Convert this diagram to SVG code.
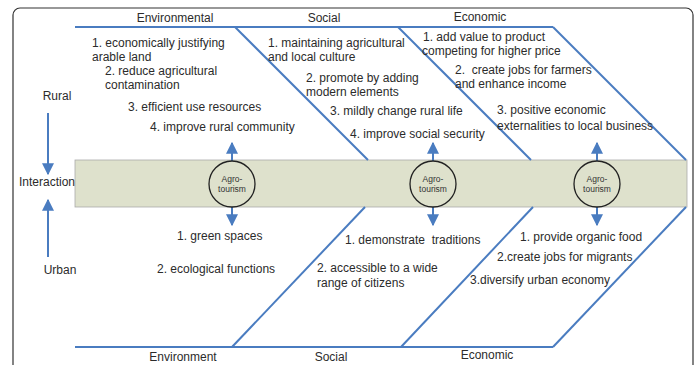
<svg xmlns="http://www.w3.org/2000/svg" width="697" height="365" viewBox="0 0 697 365">
<defs>
<style>
.t{font-family:"Liberation Sans",Arial,sans-serif;font-size:12px;fill:#2b2b2b;white-space:pre}
.s{font-family:"Liberation Sans",Arial,sans-serif;font-size:8.5px;fill:#333;text-anchor:middle}
.m{text-anchor:middle}
.ln{stroke:#4a7cc0;stroke-width:2;fill:none}
.ar{stroke:#4a7cc0;stroke-width:2;fill:none}
</style>
<marker id="ah" viewBox="0 0 10 10" refX="9" refY="5" markerWidth="6" markerHeight="6" orient="auto" markerUnits="strokeWidth">
<path d="M0,0 L10,5 L0,10 Z" fill="#4a7cc0"/>
</marker>
</defs>
<rect x="0" y="0" width="697" height="365" fill="#ffffff"/>
<rect x="13" y="8" width="680" height="370" rx="7" fill="none" stroke="#333" stroke-width="1.2"/>
<rect id="band" x="75" y="160" width="612" height="47" fill="#dee1cc" stroke="#aaa" stroke-width="0.8"/>
<g id="connectors">
<polyline class="ln" points="75,27 553,27"/>
<line class="ln" x1="235" y1="27" x2="368" y2="160"/>
<line class="ln" x1="398" y1="27" x2="531" y2="160"/>
<line class="ln" x1="553" y1="27" x2="686" y2="160"/>
<polyline class="ln" points="75,347 553,347"/>
<line class="ln" x1="232" y1="347" x2="365" y2="207"/>
<line class="ln" x1="401" y1="347" x2="533" y2="207"/>
<line class="ln" x1="553" y1="347" x2="686" y2="207"/>
<line class="ar" x1="48" y1="113" x2="48" y2="174" marker-end="url(#ah)"/>
<line class="ar" x1="48" y1="257" x2="48" y2="200" marker-end="url(#ah)"/>
<line class="ar" x1="232" y1="161" x2="232" y2="143" marker-end="url(#ah)"/>
<line class="ar" x1="232" y1="207" x2="232" y2="225" marker-end="url(#ah)"/>
<line class="ar" x1="433" y1="161" x2="433" y2="143" marker-end="url(#ah)"/>
<line class="ar" x1="433" y1="207" x2="433" y2="225" marker-end="url(#ah)"/>
<line class="ar" x1="597" y1="161" x2="597" y2="143" marker-end="url(#ah)"/>
<line class="ar" x1="597" y1="207" x2="597" y2="225" marker-end="url(#ah)"/>
</g>
<g id="agro1"><circle cx="232" cy="184" r="23" fill="#dee1cc" stroke="#222" stroke-width="1.3"/><text class="s" x="232" y="182">Agro-</text><text class="s" x="232" y="192">tourism</text></g>
<g id="agro2"><circle cx="433" cy="184" r="23" fill="#dee1cc" stroke="#222" stroke-width="1.3"/><text class="s" x="433" y="182">Agro-</text><text class="s" x="433" y="192">tourism</text></g>
<g id="agro3"><circle cx="597" cy="184" r="23" fill="#dee1cc" stroke="#222" stroke-width="1.3"/><text class="s" x="597" y="182">Agro-</text><text class="s" x="597" y="192">tourism</text></g>
<g id="labels-side">
<text class="t m" x="57" y="100">Rural</text>
<text class="t m" x="47" y="186">Interaction</text>
<text class="t m" x="60" y="274">Urban</text>
</g>
<g id="headers">
<text class="t m" x="175" y="22">Environmental</text>
<text class="t m" x="324" y="22">Social</text>
<text class="t m" x="480" y="21">Economic</text>
<text class="t m" x="183" y="361">Environment</text>
<text class="t m" x="331" y="361">Social</text>
<text class="t m" x="487" y="359">Economic</text>
</g>
<g id="env-rural">
<text class="t" x="92" y="47">1. economically justifying</text>
<text class="t" x="92" y="61">arable land</text>
<text class="t" x="105" y="75">2. reduce agricultural</text>
<text class="t" x="105" y="89">contamination</text>
<text class="t" x="128" y="111">3. efficient use resources</text>
<text class="t" x="150" y="131">4. improve rural community</text>
</g>
<g id="soc-rural">
<text class="t" x="268" y="47">1. maintaining agricultural</text>
<text class="t" x="268" y="61">and local culture</text>
<text class="t" x="306" y="82">2. promote by adding</text>
<text class="t" x="306" y="96">modern elements</text>
<text class="t" x="330" y="115">3. mildly change rural life</text>
<text class="t" x="350" y="138">4. improve social security</text>
</g>
<g id="eco-rural">
<text class="t" x="423" y="41">1. add value to product</text>
<text class="t" x="422" y="55">competing for higher price</text>
<text class="t" x="455" y="74" xml:space="preserve">2.  create jobs for farmers</text>
<text class="t" x="455" y="88">and enhance income</text>
<text class="t" x="497" y="114">3. positive economic</text>
<text class="t" x="497" y="130">externalities to local business</text>
</g>
<g id="env-urban">
<text class="t" x="177" y="240">1. green spaces</text>
<text class="t" x="157" y="273">2. ecological functions</text>
</g>
<g id="soc-urban">
<text class="t" x="345" y="244" xml:space="preserve">1. demonstrate  traditions</text>
<text class="t" x="317" y="272">2. accessible to a wide</text>
<text class="t" x="317" y="287">range of citizens</text>
</g>
<g id="eco-urban">
<text class="t" x="520" y="241">1. provide organic food</text>
<text class="t" x="497" y="261">2.create jobs for migrants</text>
<text class="t" x="470" y="284">3.diversify urban economy</text>
</g>
</svg>
